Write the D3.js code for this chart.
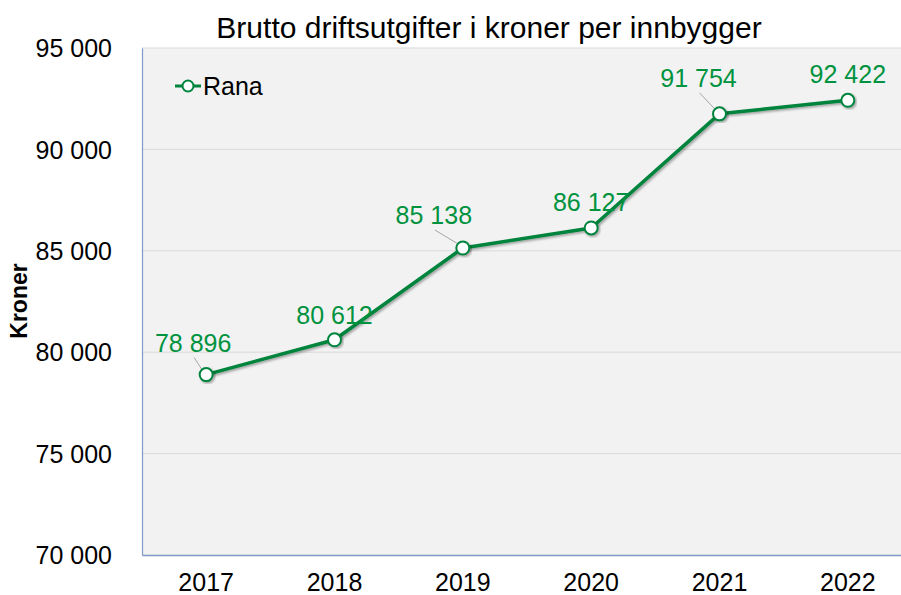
<!DOCTYPE html>
<html>
<head>
<meta charset="utf-8">
<script src="https://cdn.jsdelivr.net/npm/d3@7"></script>
<style>
  body { margin: 0; background: #fff; }
  svg { display: block; font-family: "Liberation Sans", Arial, sans-serif; }
</style>
</head>
<body>
<script>
// chart data
var years = ["2017", "2018", "2019", "2020", "2021", "2022"];
var rana = [78896, 80612, 85138, 86127, 91754, 92422];
var yTicks = [70000, 75000, 80000, 85000, 90000, 95000];
// label offsets (dx, dy) relative to each point
var labelDx = [-13, 0, -29, 0, -21, 0];
var labelDy = [-23, -16, -24, -17, -27, -17];
var hasLeader = [true, false, true, false, true, false];

var width = 901, height = 595;
var pLeft = 142, pTop = 48, pRight = 912, pBottom = 555;

var svg = d3.select("body").append("svg")
    .attr("width", width)
    .attr("height", height);

var defs = svg.append("defs");
var f = defs.append("filter").attr("id", "shadow")
    .attr("x", "-20%").attr("y", "-20%").attr("width", "140%").attr("height", "140%");
f.append("feDropShadow").attr("dx", 1.5).attr("dy", 1.5).attr("stdDeviation", 1.2)
    .attr("flood-color", "#000").attr("flood-opacity", 0.35);

var x = d3.scaleBand().domain(years).range([pLeft, pRight]);
var y = d3.scaleLinear().domain([70000, 95000]).range([pBottom, pTop]);
var fmt = function(v){ return d3.format(",")(v).replace(/,/g, " "); };

//plot background
svg.append("rect")
    .attr("x", pLeft).attr("y", pTop)
    .attr("width", pRight - pLeft).attr("height", pBottom - pTop)
    .attr("fill", "#f2f2f2");

//gridlines
svg.selectAll(".grid")
    .data(yTicks.filter(function(d){ return d > 70000; }))
    .enter().append("line")
    .attr("x1", pLeft).attr("x2", pRight)
    .attr("y1", function(d){ return y(d); })
    .attr("y2", function(d){ return y(d); })
    .attr("stroke", "#d9d9d9").attr("stroke-width", 1);

//y axis
var yAxis = svg.append("g")
    .attr("transform", "translate(" + pLeft + ",0)")
    .call(d3.axisLeft(y).tickValues(yTicks).tickSize(0).tickPadding(30).tickFormat(fmt));
yAxis.select(".domain").attr("stroke", "#7d9acb").attr("stroke-width", 1.2);
yAxis.selectAll("text")
    .attr("font-size", 25).attr("fill", "#000")
    .attr("font-family", "Liberation Sans, Arial, sans-serif")
    .attr("dy", "0.35em");

//x axis
var xAxis = svg.append("g")
    .attr("transform", "translate(0," + pBottom + ")")
    .call(d3.axisBottom(x).tickSize(0).tickPadding(18));
xAxis.select(".domain").attr("stroke", "#7d9acb").attr("stroke-width", 1.5);
xAxis.selectAll("text")
    .attr("font-size", 25).attr("fill", "#000")
    .attr("font-family", "Liberation Sans, Arial, sans-serif");

//title
svg.append("text")
    .attr("x", 489).attr("y", 38)
    .attr("text-anchor", "middle")
    .attr("font-size", 30)
    .text("Brutto driftsutgifter i kroner per innbygger");

//y axis title
svg.append("text")
    .attr("transform", "translate(27,301) rotate(-90)")
    .attr("text-anchor", "middle")
    .attr("font-size", 23).attr("font-weight", "bold")
    .text("Kroner");

var cx = function(i){ return x(years[i]) + x.bandwidth() / 2; };

//line
var line = d3.line()
    .x(function(d, i){ return cx(i); })
    .y(function(d){ return y(d); });

svg.append("path")
    .datum(rana)
    .attr("d", line)
    .attr("fill", "none")
    .attr("stroke", "#00843d")
    .attr("stroke-width", 3.5)
    .attr("stroke-linejoin", "round")
    .attr("filter", "url(#shadow)");

//leader lines
rana.forEach(function(d, i){
    if (!hasLeader[i]) return;
    svg.append("line")
        .attr("x1", cx(i) + labelDx[i] + 1)
        .attr("y1", y(d) + labelDy[i] + 6)
        .attr("x2", cx(i) - 3)
        .attr("y2", y(d) - 3)
        .attr("stroke", "#a6a6a6").attr("stroke-width", 1);
});

//markers
svg.selectAll(".pt")
    .data(rana)
    .enter().append("circle")
    .attr("cx", function(d, i){ return cx(i); })
    .attr("cy", function(d){ return y(d); })
    .attr("r", 6.5)
    .attr("fill", "#fff")
    .attr("stroke", "#00843d")
    .attr("stroke-width", 2)
    .attr("filter", "url(#shadow)");

//data labels
svg.selectAll(".lbl")
    .data(rana)
    .enter().append("text")
    .attr("x", function(d, i){ return cx(i) + labelDx[i]; })
    .attr("y", function(d, i){ return y(d) + labelDy[i]; })
    .attr("text-anchor", "middle")
    .attr("font-size", 25)
    .attr("fill", "#00933f")
    .text(fmt);

//legend
var lg = svg.append("g").attr("transform", "translate(175,86)");
lg.append("line").attr("x1", 0).attr("x2", 26).attr("y1", 0).attr("y2", 0)
    .attr("stroke", "#00843d").attr("stroke-width", 3);
lg.append("circle").attr("cx", 13).attr("cy", 0).attr("r", 5.5)
    .attr("fill", "#fff").attr("stroke", "#00843d").attr("stroke-width", 2);
lg.append("text").attr("x", 28).attr("y", 9)
    .attr("font-size", 25).text("Rana");
</script>
</body>
</html>
